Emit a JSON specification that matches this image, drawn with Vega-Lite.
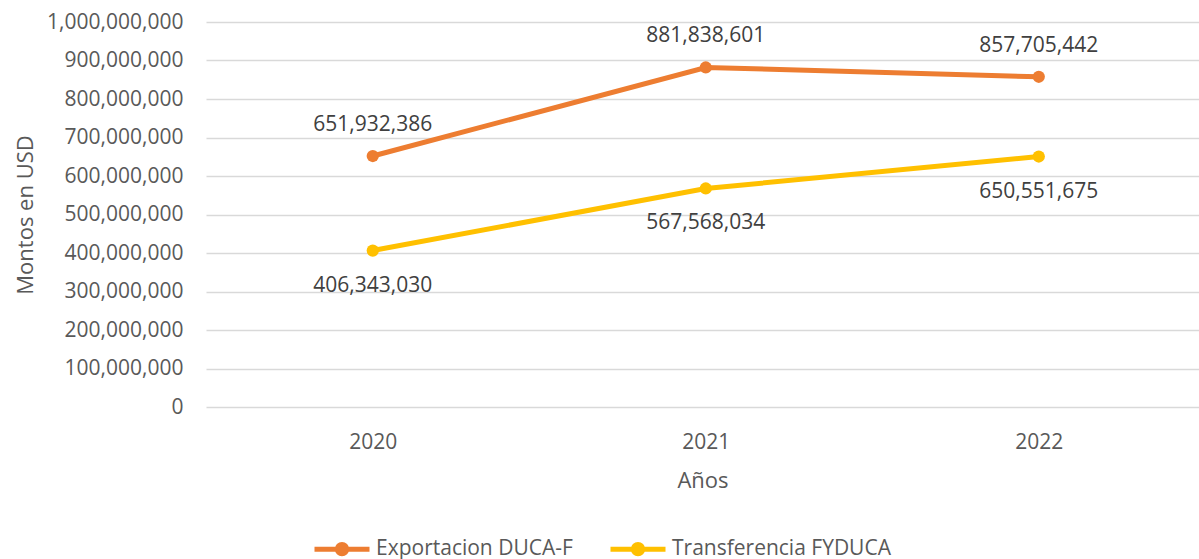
{
  "$schema": "https://vega.github.io/schema/vega-lite/v6.json",
  "autosize": "none",
  "padding": {"left": 206, "top": 22, "right": 0, "bottom": 152},
  "width": 993,
  "height": 385,
  "background": "white",
  "config": {
    "view": {"stroke": null},
    "font": "Open Sans",
    "axis": {"labelFont": "Open Sans", "titleFont": "Open Sans", "labelColor": "#595959", "titleColor": "#595959", "titleFontWeight": "normal"},
    "legend": {"labelFont": "Open Sans", "labelColor": "#595959"}
  },
  "data": {
    "values": [
      {"anio": "2020", "serie": "Exportacion DUCA-F", "monto": 651932386},
      {"anio": "2021", "serie": "Exportacion DUCA-F", "monto": 881838601},
      {"anio": "2022", "serie": "Exportacion DUCA-F", "monto": 857705442},
      {"anio": "2020", "serie": "Transferencia FYDUCA", "monto": 406343030},
      {"anio": "2021", "serie": "Transferencia FYDUCA", "monto": 567568034},
      {"anio": "2022", "serie": "Transferencia FYDUCA", "monto": 650551675}
    ]
  },
  "encoding": {
    "x": {
      "field": "anio", "type": "ordinal",
      "scale": {"type": "point", "padding": 0.491, "align": 0.51},
      "axis": {"title": "Años", "labelAngle": 0, "domain": false, "ticks": false, "tickSize": 0, "labelPadding": 24, "labelFontSize": 21, "titleFontSize": 22, "titlePadding": 18, "grid": false}
    },
    "y": {
      "field": "monto", "type": "quantitative",
      "scale": {"domain": [0, 1000000000]},
      "axis": {"title": "Montos en USD", "values": [0, 100000000, 200000000, 300000000, 400000000, 500000000, 600000000, 700000000, 800000000, 900000000, 1000000000], "format": ",d", "domain": false, "ticks": false, "tickSize": 0, "labelPadding": 23, "labelFontSize": 21, "titleFontSize": 22, "titlePadding": 9, "gridColor": "#d9d9d9", "gridWidth": 1.5}
    },
    "color": {
      "field": "serie", "type": "nominal",
      "scale": {"domain": ["Exportacion DUCA-F", "Transferencia FYDUCA"], "range": ["#ED7D31", "#FFC000"]},
      "legend": {
        "title": null, "orient": "none", "direction": "horizontal",
        "legendX": 106, "legendY": 497,
        "symbolType": "M-1,0L1,0M-0.17,0A0.17,0.17,0,1,1,0.17,0A0.17,0.17,0,1,1,-0.17,0Z",
        "symbolSize": 3025, "symbolStrokeWidth": 5,
        "labelFontSize": 21, "labelOffset": 4, "columnPadding": 27, "labelLimit": 400,
        "encode": {"symbols": {"update": {"fill": {"scale": "color", "field": "value"}, "stroke": {"scale": "color", "field": "value"}, "strokeWidth": {"value": 5}, "opacity": {"value": 1}, "fillOpacity": {"value": 1}, "strokeOpacity": {"value": 1}}}}
      }
    }
  },
  "layer": [
    {"mark": {"type": "line", "strokeWidth": 5, "strokeCap": "round"}},
    {"mark": {"type": "point", "filled": true, "size": 150, "opacity": 1}},
    {
      "transform": [{"filter": "datum.serie === 'Exportacion DUCA-F'"}],
      "mark": {"type": "text", "dy": -31, "fontSize": 21, "color": "#404040", "font": "Open Sans"},
      "encoding": {"text": {"field": "monto", "type": "quantitative", "format": ",d"}, "color": {"value": "#404040"}}
    },
    {
      "transform": [{"filter": "datum.serie === 'Transferencia FYDUCA'"}],
      "mark": {"type": "text", "dy": 35, "fontSize": 21, "color": "#404040", "font": "Open Sans"},
      "encoding": {"text": {"field": "monto", "type": "quantitative", "format": ",d"}, "color": {"value": "#404040"}}
    }
  ]
}
